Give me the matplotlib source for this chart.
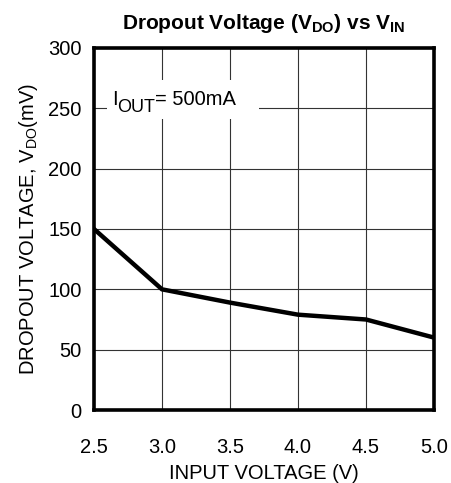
import numpy as np
import matplotlib.pyplot as plt
from matplotlib.patches import Rectangle

plt.rcParams['font.family'] = ['Liberation Sans', 'DejaVu Sans']
plt.rcParams['mathtext.fontset'] = 'custom'
plt.rcParams['mathtext.rm'] = 'Liberation Sans'
plt.rcParams['mathtext.bf'] = 'Liberation Sans:bold'
plt.rcParams['mathtext.default'] = 'regular'

# data
vin = [2.5, 3.0, 3.5, 4.0, 4.5, 5.0]
vdo = [150, 100, 89, 79, 75, 60]
xticks = [2.5, 3.0, 3.5, 4.0, 4.5, 5.0]
yticks = [0, 50, 100, 150, 200, 250, 300]

fs = 14.5

fig = plt.figure(figsize=(4.52, 4.83), dpi=100)
ax = fig.add_axes([94/452, 73/483, 340/452, 362/483])

ax.plot(vin, vdo, color='black', lw=3.2, solid_joinstyle='miter', zorder=3)

ax.set_xlim(2.5, 5.0)
ax.set_ylim(0, 300)
ax.set_xticks(xticks)
ax.set_xticklabels(['%.1f' % v for v in xticks])
ax.set_yticks(yticks)
ax.grid(True, color='#333333', lw=0.8)
ax.tick_params(length=0, labelsize=fs)
ax.tick_params(axis='x', pad=20)
ax.tick_params(axis='y', pad=9)
for s in ax.spines.values():
    s.set_linewidth(2.6)
    s.set_zorder(5)

# white backdrop behind the current label
ax.add_patch(Rectangle((0.038, 0.804), 0.447, 0.108, transform=ax.transAxes,
                       facecolor='white', edgecolor='none', zorder=2.5))
t1 = ax.text(2.63, 252.8, 'I', fontsize=fs, va='baseline', zorder=4)
t2 = ax.annotate('OUT', xy=(1, 0), xycoords=t1, xytext=(0, -5),
                 textcoords='offset points', fontsize=13, va='bottom', zorder=4)
ax.annotate('= 500mA', xy=(1, 0), xycoords=(t2, t1), fontsize=fs,
            va='bottom', zorder=4)

ax.set_xlabel('INPUT VOLTAGE (V)', fontsize=fs, labelpad=5)
ax.set_ylabel('DROPOUT VOLTAGE, V$_{DO}$(mV)', fontsize=fs, labelpad=6)
ax.set_title('Dropout Voltage (V$_{DO}$) vs V$_{IN}$', fontsize=15,
             fontweight='bold', pad=14)

fig.savefig('out.png', dpi=100)
